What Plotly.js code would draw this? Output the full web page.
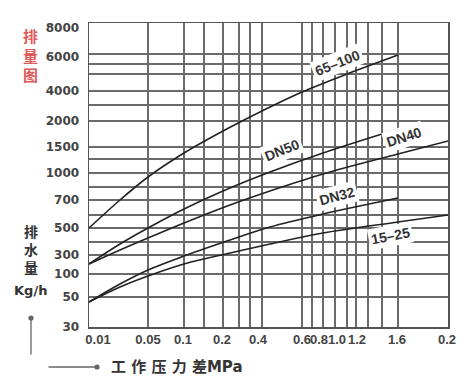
<!DOCTYPE html>
<html>
<head>
<meta charset="utf-8">
<script src="https://cdn.plot.ly/plotly-3.0.1.min.js"></script>
<style>html,body{margin:0;padding:0;background:#fff;}#chart{width:468px;height:379px;}</style>
</head>
<body>
<div id="chart"></div>
<script>
// Chart drawn on its own (non-standard) printed scale; values are in scale units.
// X tick labels (pressure difference, MPa) and their scale positions
const xTickText = ['0.01', '0.05', '0.1', '0.2', '0.4', '0.6', '0.8', '1.0', '1.2', '1.6', '0.2'];
const xTickPos  = [9, 59, 94, 133, 169, 213, 230, 248, 268, 308, 358];
const xGridPos  = [59, 95, 115, 134, 150, 161, 173, 213, 223, 234, 246, 258, 267, 279, 293, 309];

// Y tick labels (discharge, Kg/h) and their scale positions
const yTickText = ['8000', '6000', '4000', '2000', '1500', '1000', '700', '500', '300', '100', '50', '30'];
const yTickPos  = [299, 270, 236, 206, 180, 154, 127, 99, 72, 53, 30, 0];
const yGridPos  = [273, 263, 253, 236, 222, 206, 180, 168, 154, 140, 127, 112, 99, 85, 72, 53, 30];

// Curves
const seriesNames = ['65–100', 'DN50', 'DN40', 'DN32', '15–25'];
const x_65_100 = [0, 31, 59, 95, 134, 173, 213, 258, 309];
const y_65_100 = [99, 127, 150, 174, 196, 216, 235, 253, 272];
const x_DN50 = [0, 31, 59, 95, 141, 181, 234, 309];
const y_DN50 = [63, 83, 99, 118, 139, 155, 174, 198];
const x_DN40 = [0, 31, 59, 95, 141, 181, 234, 309, 359];
const y_DN40 = [63, 77, 89, 104, 122, 136, 153, 173, 186];
const x_DN32 = [0, 31, 59, 95, 141, 181, 234, 309];
const y_DN32 = [25, 43, 57, 71, 87, 100, 113, 129];
const x_15_25 = [0, 31, 59, 95, 141, 181, 234, 309, 359];
const y_15_25 = [25, 40, 51, 63, 74, 83, 94, 105, 112];

// Curve label anchor positions (scale units) and angles
const labelX = [248, 193, 315, 248, 301];
const labelY = [264, 177, 190, 131, 91];
const labelAngle = [-22, -22, -18, -15, -11];

const xs = [x_65_100, x_DN50, x_DN40, x_DN32, x_15_25];
const ys = [y_65_100, y_DN50, y_DN40, y_DN32, y_15_25];

const traces = seriesNames.map((n, i) => ({
  x: xs[i], y: ys[i], type: 'scatter', mode: 'lines', name: n,
  line: {color: '#222', width: 1.6, shape: 'spline', smoothing: 1},
  hoverinfo: 'skip'
}));

const gridColor = '#6a6a6a';
const annotations = seriesNames.map((n, i) => ({
  x: labelX[i], y: labelY[i], xref: 'x', yref: 'y', text: n, showarrow: false,
  textangle: labelAngle[i], bgcolor: 'white', borderpad: 2,
  font: {family: 'Liberation Sans, Arial, sans-serif', size: 14, color: '#333', weight: 'bold'}
}));

// side titles
annotations.push({
  xref: 'paper', yref: 'paper', x: -0.162, y: (327 - 55) / 304, text: '排<br>量<br>图',
  showarrow: false, xanchor: 'center', yanchor: 'middle',
  font: {family: 'Noto Sans CJK SC, sans-serif', size: 15, color: '#e05a5a', weight: 'bold'}
});
annotations.push({
  xref: 'paper', yref: 'paper', x: -0.162, y: (327 - 249) / 304, text: '排<br>水<br>量',
  showarrow: false, xanchor: 'center', yanchor: 'middle',
  font: {family: 'Noto Sans CJK SC, sans-serif', size: 14, color: '#333', weight: 'bold'}
});
annotations.push({
  xref: 'paper', yref: 'paper', x: -0.162, y: (327 - 290) / 304, text: 'Kg/h',
  showarrow: false, xanchor: 'center', yanchor: 'middle',
  font: {family: 'DejaVu Sans, sans-serif', size: 13, color: '#333', weight: 'bold'}
});
annotations.push({
  xref: 'paper', yref: 'paper', x: (109 - 89) / 359, y: (327 - 367) / 304, text: '工 作 压 力 差MPa',
  showarrow: false, xanchor: 'left', yanchor: 'middle',
  font: {family: 'DejaVu Sans, Noto Sans CJK SC, sans-serif', size: 15, color: '#333', weight: 'bold'}
});
// arrows
annotations.push({
  xref: 'paper', yref: 'paper', x: (31 - 89) / 359, y: (327 - 318) / 304, text: '',
  showarrow: true, ax: 0, ay: 38, arrowhead: 6, arrowsize: 1, arrowwidth: 1.3, arrowcolor: '#666'
});
annotations.push({
  xref: 'paper', yref: 'paper', x: (97 - 89) / 359, y: (327 - 367) / 304, text: '',
  showarrow: true, ax: -50, ay: 0, arrowhead: 6, arrowsize: 1, arrowwidth: 1.3, arrowcolor: '#666'
});

const layout = {
  width: 468, height: 379,
  margin: {l: 89, r: 20, t: 23, b: 52},
  paper_bgcolor: '#fff', plot_bgcolor: '#fff',
  showlegend: false,
  xaxis: {
    range: [0, 359], tickmode: 'array', tickvals: xTickPos, ticktext: xTickText, tickangle: 0,
    showgrid: false, zeroline: false, ticks: '', ticklabelstandoff: 0,
    showline: true, mirror: true, linecolor: '#555', linewidth: 1.5,
    tickfont: {family: 'Liberation Sans, Arial, sans-serif', size: 13, color: '#444', weight: 'bold'},
    minor: {tickmode: 'array', tickvals: xGridPos, showgrid: true, gridcolor: gridColor, gridwidth: 1.3, ticks: ''},
    fixedrange: true
  },
  yaxis: {
    range: [0, 304], tickmode: 'array', tickvals: yTickPos, ticktext: yTickText,
    showgrid: false, zeroline: false, ticks: '', ticklabelstandoff: 6,
    showline: true, mirror: true, linecolor: '#555', linewidth: 1.5,
    tickfont: {family: 'DejaVu Sans, sans-serif', size: 12, color: '#444', weight: 'bold'},
    minor: {tickmode: 'array', tickvals: yGridPos, showgrid: true, gridcolor: gridColor, gridwidth: 1.3, ticks: ''},
    fixedrange: true
  },
  annotations: annotations
};

Plotly.newPlot('chart', traces, layout, {displayModeBar: false, staticPlot: true});
</script>
</body>
</html>
